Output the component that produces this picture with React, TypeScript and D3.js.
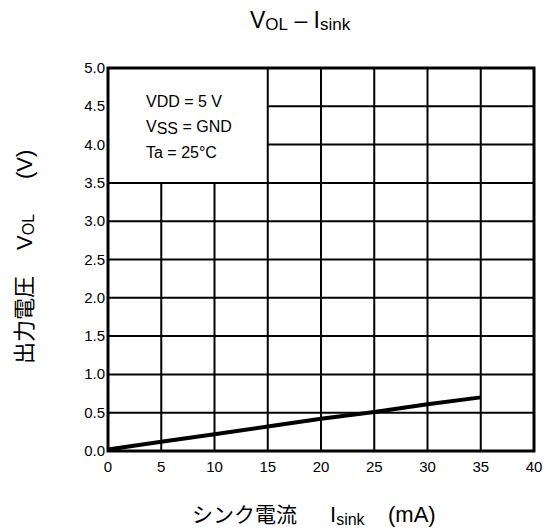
import React from "react";
import * as d3 from "d3";

const xTicks = [0, 5, 10, 15, 20, 25, 30, 35, 40];
const yTicks = [0.0, 0.5, 1.0, 1.5, 2.0, 2.5, 3.0, 3.5, 4.0, 4.5, 5.0];
const sinkCurrent = [0, 5, 10, 15, 20, 25, 30, 35];
const outputVoltage = [0.02, 0.12, 0.22, 0.32, 0.42, 0.51, 0.61, 0.70];
const conditions = ["VDD = 5 V", "VSS = GND", "Ta = 25°C"];

const W = 547;
const H = 528;
const L = 108, R = 534, T = 68, B = 451;
const LATIN = "'Liberation Sans', Arial, Helvetica, sans-serif";
const CJK = "'Noto Sans CJK JP', 'Liberation Sans', sans-serif";

export default function App() {
  const x = d3.scaleLinear().domain([0, 40]).range([L, R]);
  const y = d3.scaleLinear().domain([0, 5]).range([B, T]);
  const line = d3
    .line<number>()
    .x((_, i) => x(sinkCurrent[i]))
    .y((d) => y(d));

  const boxX = 15;
  const boxY = 3.5;

  return (
    <svg
      width={W}
      height={H}
      style={{ position: "absolute", left: 0, top: 0, background: "#fff" }}
      fontFamily={LATIN}
    >
      <rect x={0} y={0} width={W} height={H} fill="#fff" />
      {/* vertical grid lines */}
      {xTicks.slice(1, -1).map((t) => (
        <line
          key={"vx" + t}
          x1={x(t)}
          x2={x(t)}
          y1={y(0)}
          y2={t < boxX ? y(boxY) : y(5)}
          stroke="#000"
          strokeWidth={2}
        />
      ))}
      {/* horizontal grid lines */}
      {yTicks.slice(1, -1).map((t) => (
        <line
          key={"hy" + t}
          x1={t > boxY ? x(boxX) : x(0)}
          x2={x(40)}
          y1={y(t)}
          y2={y(t)}
          stroke="#000"
          strokeWidth={2}
        />
      ))}
      {/* frame */}
      <rect
        x={x(0)}
        y={y(5)}
        width={x(40) - x(0)}
        height={y(0) - y(5)}
        fill="none"
        stroke="#000"
        strokeWidth={3}
      />
      {/* data line */}
      <path d={line(outputVoltage) || ""} fill="none" stroke="#000" strokeWidth={4} />

      {/* tick labels */}
      {yTicks.map((t) => (
        <text key={"yl" + t} x={x(0) - 3} y={y(t) + 5} textAnchor="end" fontSize={15}>
          {t.toFixed(1)}
        </text>
      ))}
      {xTicks.map((t) => (
        <text key={"xl" + t} x={x(t)} y={y(0) + 21} textAnchor="middle" fontSize={15}>
          {t}
        </text>
      ))}

      {/* conditions */}
      <text x={146} y={107} fontSize={16}>{conditions[0]}</text>
      <text x={146} y={132} fontSize={16}>
        <tspan>V</tspan>
        <tspan dy={2}>SS</tspan>
        <tspan dy={-2}> = GND</tspan>
      </text>
      <text x={146} y={158} fontSize={16}>{conditions[2]}</text>

      {/* title */}
      <text x={250} y={28} fontSize={23}>
        <tspan>V</tspan>
        <tspan fontSize={17} dy={2}>OL</tspan>
        <tspan dy={-2}> – I</tspan>
        <tspan fontSize={17} dy={2}>sink</tspan>
      </text>

      {/* x axis label */}
      <text y={522} fontSize={22}>
        <tspan x={192} fontFamily={CJK} fontSize={21}>シンク電流</tspan>
        <tspan x={330}>I</tspan>
        <tspan fontSize={16} dy={3}>sink</tspan>
        <tspan x={388} dy={-3}>(mA)</tspan>
      </text>

      {/* y axis label */}
      <g transform="translate(32, 364) rotate(-90)">
        <text y={0} fontSize={22}>
          <tspan x={0} fontFamily={CJK}>出力電圧</tspan>
          <tspan x={114}>V</tspan>
          <tspan fontSize={16} dy={2}>OL</tspan>
          <tspan x={185} dy={-2}>(V)</tspan>
        </text>
      </g>
    </svg>
  );
}
